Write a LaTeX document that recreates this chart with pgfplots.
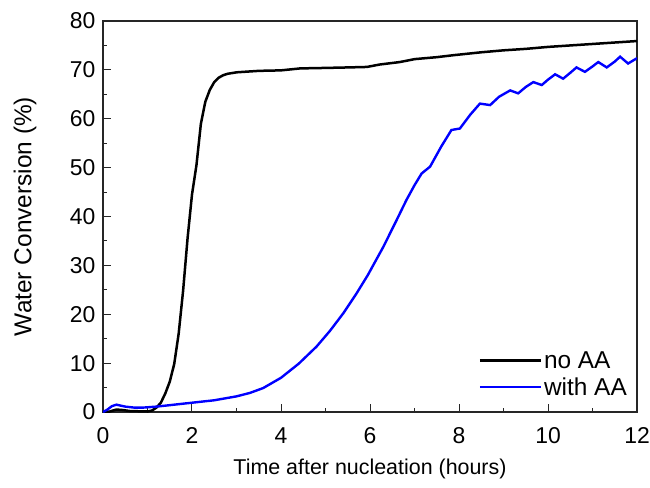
\documentclass[border=0pt]{standalone}
\usepackage{pgfplots}
\pgfplotsset{compat=1.18}
\usepackage{fontspec}
\setmainfont{Liberation Sans}
\definecolor{myblue}{RGB}{0,0,255}
\begin{document}
\begin{tikzpicture}
\path[use as bounding box] (-103bp,-76bp) rectangle (547bp,412bp);
\begin{axis}[
  at={(0,0)}, anchor=south west,
  scale only axis, width=534bp, height=391bp,
  xmin=0, xmax=12, ymin=0, ymax=80,
  xtick={0,2,...,12}, ytick={0,10,...,80},
  minor x tick num=1, minor y tick num=1,
  tick align=inside, xtick pos=bottom, ytick pos=left,
  major tick length=8bp, minor tick length=4.5bp,
  axis line style={line width=1.2bp, black!85},
  every tick/.style={line width=1bp, black!85},
  tick label style={font=\fontsize{23}{26}\selectfont},
  xticklabel style={yshift=-12bp},
  yticklabel style={xshift=-4bp},
  /pgf/number format/assume math mode=true,
  xlabel={Time after nucleation (hours)},
  ylabel={Water Conversion (\%)},
  xlabel style={font=\fontsize{21.5}{24}\selectfont, at={(axis description cs:0.5,-0.145)}, anchor=center},
  ylabel style={font=\fontsize{24.5}{26}\selectfont, at={(axis description cs:-0.146,0.5)}, anchor=center},
  legend style={draw=none, fill=none, font=\fontsize{24.5}{27}\selectfont,
    at={(axis description cs:1,0)}, anchor=south east, xshift=-8bp, yshift=13bp,
    inner sep=0pt, row sep=4bp},
  legend cell align=left,
  legend image code/.code={\draw[#1] (0bp,0bp) -- (57bp,0bp); \path (57bp,0bp) -- (61bp,0bp);},
]
\addplot[black, line width=2.5bp] coordinates {
(0,0) (0.15,0.1) (0.3,0.5) (0.45,0.4) (0.6,0.2) (0.8,0.15) (1.0,0.1) (1.1,0.3) (1.2,0.9)
(1.3,1.9) (1.4,3.8) (1.5,6.2) (1.6,9.8) (1.7,16.0) (1.8,24.8) (1.9,35.5) (2.0,44.5)
(2.1,50.5) (2.2,59.0) (2.3,63.5) (2.4,65.9) (2.5,67.5) (2.6,68.4) (2.7,68.9) (2.8,69.2)
(3.0,69.5) (3.5,69.8) (4.0,69.9) (4.43,70.3) (5.0,70.4) (5.5,70.5) (5.93,70.6) (6.22,71.1)
(6.67,71.6) (7.0,72.2) (7.5,72.6) (7.87,73.0) (8.5,73.6) (9.0,74.0) (9.5,74.3) (10.0,74.7)
(10.5,75.0) (11.0,75.3) (11.5,75.6) (12.0,75.9)
};
\addlegendentry{no AA}
\addplot[myblue, line width=2.4bp] coordinates {
(0,0) (0.1,0.5) (0.2,1.2) (0.3,1.5) (0.4,1.3) (0.5,1.1) (0.7,0.9) (0.9,0.9) (1.2,1.1)
(1.5,1.4) (2.0,1.9) (2.5,2.4) (3.0,3.2) (3.3,3.9) (3.6,4.9) (4.0,7.0) (4.4,9.9) (4.8,13.4)
(5.1,16.6) (5.4,20.2) (5.7,24.3) (5.95,28.0) (6.3,33.8) (6.6,39.3) (6.82,43.4) (7.0,46.4)
(7.16,48.8) (7.35,50.2) (7.6,54.3) (7.83,57.7) (8.02,58.0) (8.25,60.8) (8.47,63.1) (8.70,62.8)
(8.9,64.5) (9.15,65.8) (9.33,65.2) (9.5,66.5) (9.67,67.5) (9.86,66.9) (10.0,68.0) (10.16,69.1)
(10.34,68.2) (10.5,69.4) (10.64,70.5) (10.83,69.6) (11.0,70.7) (11.13,71.6) (11.32,70.5)
(11.5,71.7) (11.62,72.7) (11.80,71.3) (12.0,72.4)
};
\addlegendentry{with AA}
\end{axis}
\end{tikzpicture}
\end{document}
